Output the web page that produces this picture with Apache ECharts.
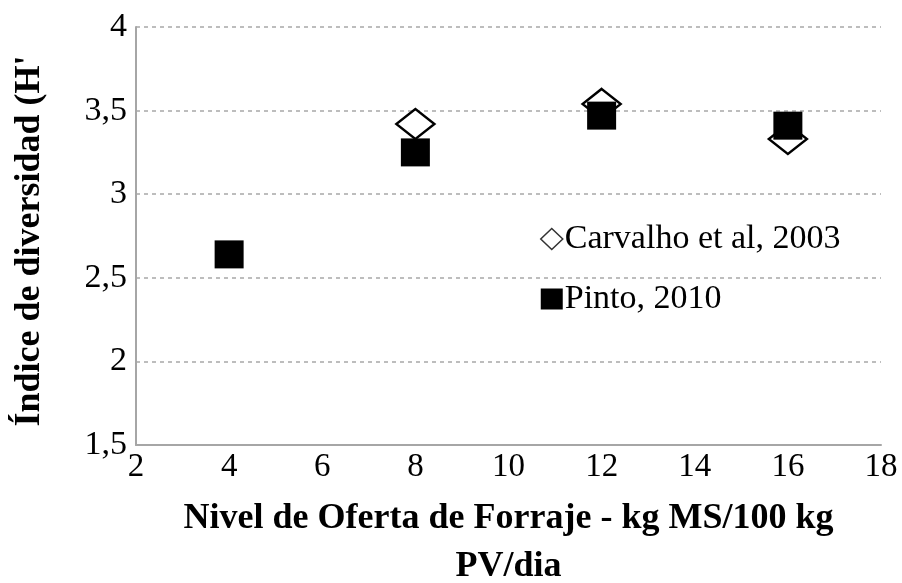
<!DOCTYPE html>
<html>
<head>
<meta charset="utf-8">
<script src="https://cdn.jsdelivr.net/npm/echarts@6/dist/echarts.min.js"></script>
<style>
  html, body { margin: 0; padding: 0; background: #fff; }
  #chart { width: 902px; height: 583px; }
</style>
</head>
<body>
<div id="chart"></div>
<script>
// datos
const carvalhoX = [8, 12, 16]
const carvalhoY = [3.42, 3.54, 3.33]
const pintoX = [4, 8, 12, 16]
const pintoY = [2.64, 3.25, 3.47, 3.41]
const seriesNames = ['Carvalho et al, 2003', 'Pinto, 2010']

const serif = 'Liberation Serif, Times New Roman, serif'

const chart = echarts.init(document.getElementById('chart'))

const option = {
  animation: false,
  backgroundColor: '#fff',
  grid: {
    left: 136,
    right: 21,
    top: 27,
    bottom: 138,
    outerBoundsMode: 'none'
  },
  legend: {
    orient: 'vertical',
    left: 540,
    top: 222,
    padding: 0,
    itemGap: 26,
    itemWidth: 22,
    itemHeight: 21,
    textStyle: {
      fontFamily: serif,
      fontSize: 34,
      color: '#000',
      padding: [0, 0, 0, -3]
    },
    data: [
      {
        name: seriesNames[0],
        icon: 'diamond',
        itemStyle: { color: '#fff', borderColor: '#333', borderWidth: 1.5 }
      },
      {
        name: seriesNames[1],
        icon: 'rect',
        itemStyle: { color: '#000' }
      }
    ]
  },
  xAxis: {
    type: 'value',
    min: 2,
    max: 18,
    interval: 2,
    name: 'Nivel de Oferta de Forraje - kg MS/100 kg\nPV/dia',
    nameLocation: 'middle',
    nameGap: 50,
    nameTextStyle: {
      fontFamily: serif,
      fontSize: 36,
      fontWeight: 'bold',
      color: '#000',
      lineHeight: 48
    },
    axisLine: { lineStyle: { color: '#a6a6a6', width: 2 } },
    axisTick: { show: false },
    splitLine: { show: false },
    axisLabel: {
      fontFamily: serif,
      fontSize: 33,
      color: '#000',
      margin: 6
    }
  },
  yAxis: {
    type: 'value',
    min: 1.5,
    max: 4,
    interval: 0.5,
    name: "Índice de diversidad (H'",
    nameLocation: 'middle',
    nameGap: 88,
    nameTextStyle: {
      fontFamily: serif,
      fontSize: 36,
      fontWeight: 'bold',
      color: '#000',
      padding: [0, 10, 0, 0]
    },
    axisLine: { show: true, lineStyle: { color: '#a6a6a6', width: 2 } },
    axisTick: { show: false },
    splitLine: {
      show: true,
      lineStyle: { color: '#a8a8a8', type: [4, 4], width: 1.5 }
    },
    axisLabel: {
      fontFamily: serif,
      fontSize: 34,
      color: '#000',
      margin: 9,
      formatter: v => String(v).replace('.', ',')
    }
  },
  series: [
    {
      name: seriesNames[0],
      type: 'scatter',
      symbol: 'diamond',
      symbolSize: [38, 30],
      itemStyle: { color: '#fff', borderColor: '#000', borderWidth: 2.5, opacity: 1 },
      data: carvalhoX.map((x, i) => [x, carvalhoY[i]]),
      z: 2
    },
    {
      name: seriesNames[1],
      type: 'scatter',
      symbol: 'rect',
      symbolSize: [29, 28],
      itemStyle: { color: '#000', opacity: 1 },
      data: pintoX.map((x, i) => [x, pintoY[i]]),
      z: 3
    }
  ]
}

chart.setOption(option)
</script>
</body>
</html>
